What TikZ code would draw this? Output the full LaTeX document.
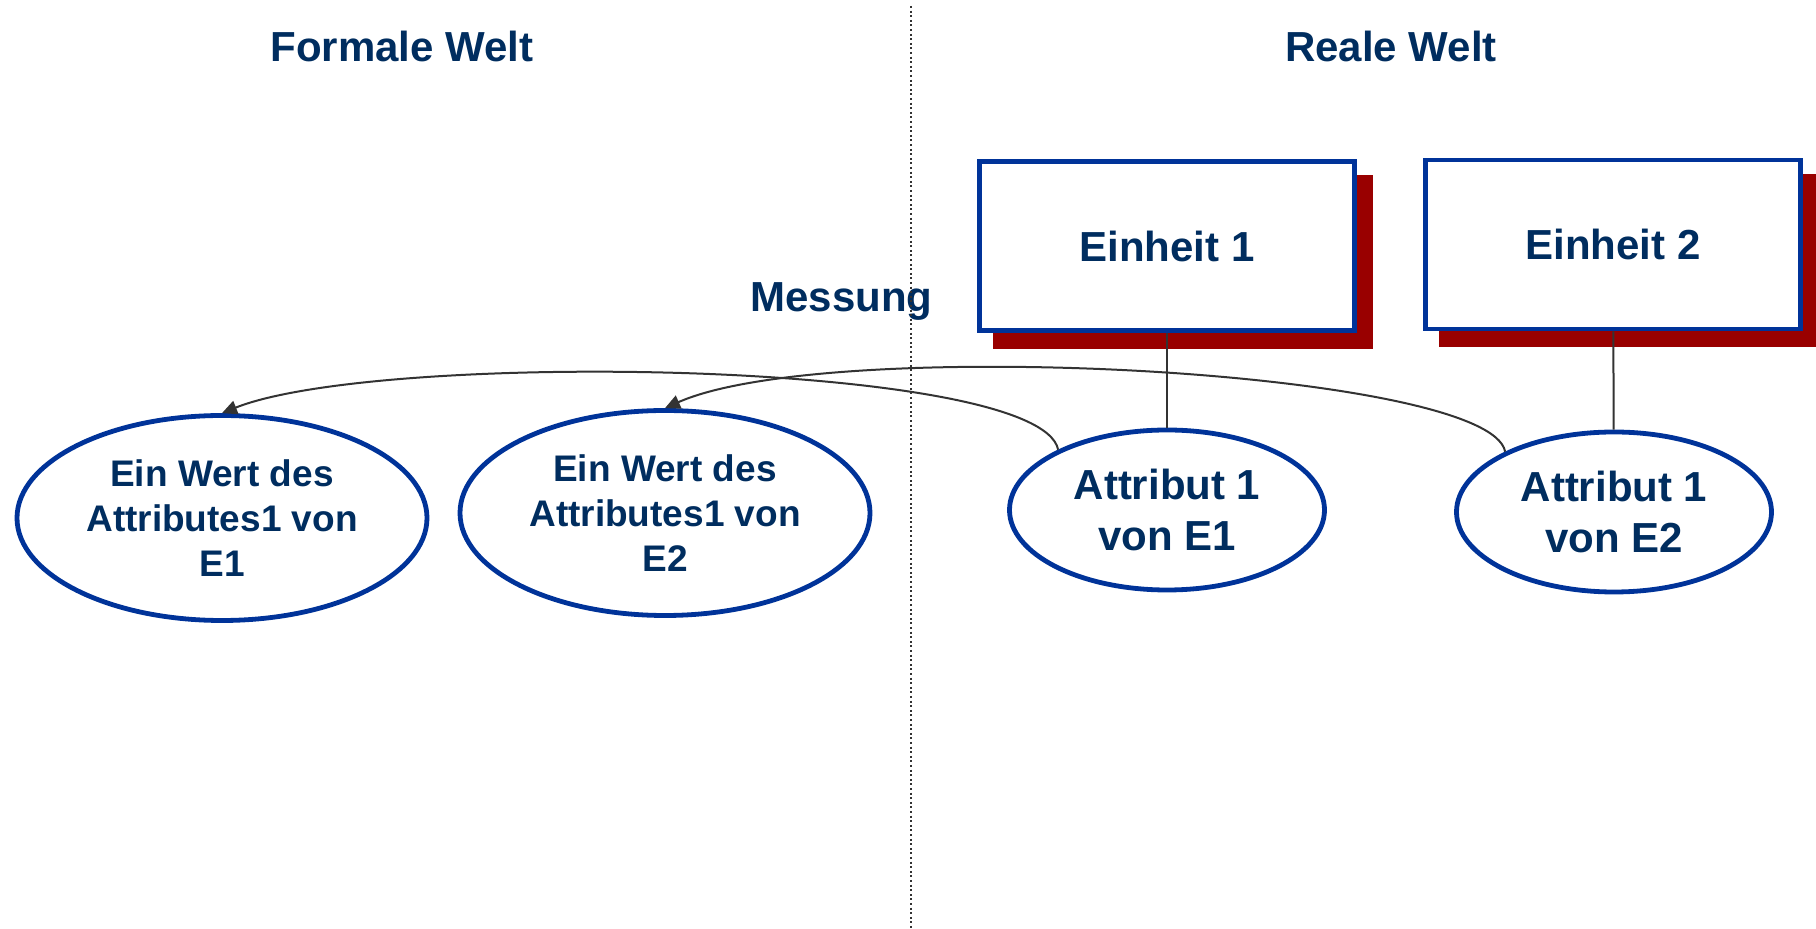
\documentclass[tikz,border=0pt]{standalone}
\usepackage{fontspec}
\setmainfont{Liberation Sans}
\usetikzlibrary{arrows.meta,shapes.geometric,shadows}
\definecolor{navy}{RGB}{0,45,95}
\definecolor{rimblue}{RGB}{0,51,153}
\definecolor{shadowred}{RGB}{153,0,0}
\definecolor{wire}{RGB}{51,51,51}

\begin{document}
\begin{tikzpicture}[x=0.5pt,y=-0.5pt]
\tikzset{every node/.style={text=navy,font=\bfseries}}
\tikzset{title/.style={anchor=base,font=\fontsize{21}{25}\selectfont\bfseries}}
\tikzset{unitbox/.style={draw=rimblue,line width=2.4pt,fill=white,minimum width=187.5pt,minimum height=84.5pt,font=\fontsize{21}{25}\selectfont\bfseries,drop shadow={shadow xshift=8pt,shadow yshift=-8pt,fill=shadowred,draw=shadowred,opacity=1}}}
\tikzset{value/.style={ellipse,draw=rimblue,line width=2.4pt,inner sep=0pt,minimum width=205pt,minimum height=102.5pt,align=center,font=\fontsize{18.5}{22.5}\selectfont\bfseries}}
\tikzset{attr/.style={value,minimum width=157.5pt,minimum height=80pt,font=\fontsize{21}{25.5}\selectfont\bfseries}}
\tikzset{link/.style={draw=wire,line width=1pt}}
\tikzset{measure/.style={link,-{Triangle[length=7.5pt,width=7pt]},fill=none}}

\useasboundingbox (0,0) rectangle (1816,929);

% headings
\node[title] (formal) at (402,62) {Formale Welt};
\node[title] (real) at (1391,62) {Reale Welt};
\node[title] (mess) at (841.5,312) {Messung};

% divider between the two worlds
\draw[wire,line width=1pt,dash pattern=on 1pt off 1.3pt] (911,6) -- (911,929);

% real world
\node[unitbox] (u1) at (1167,246) {Einheit 1};
\node[unitbox] (u2) at (1613,244.5) {Einheit 2};
\node[attr] (a1) at (1167,510) {Attribut 1\\von E1};
\node[attr] (a2) at (1614,512) {Attribut 1\\von E2};

% formal world
\node[value] (e1) at (222,518) {Ein Wert des\\Attributes1 von\\E1};
\node[value] (e2) at (665,513) {Ein Wert des\\Attributes1 von\\E2};

\draw[link] (u1) -- (a1);
\draw[link] (u2) -- (a2);
\draw[measure] (a1.151) .. controls (1040,360) and (380,350) .. (e1.north);
\draw[measure] (a2.151) .. controls (1490,370) and (830,335) .. (e2.north);

\end{tikzpicture}
\end{document}
